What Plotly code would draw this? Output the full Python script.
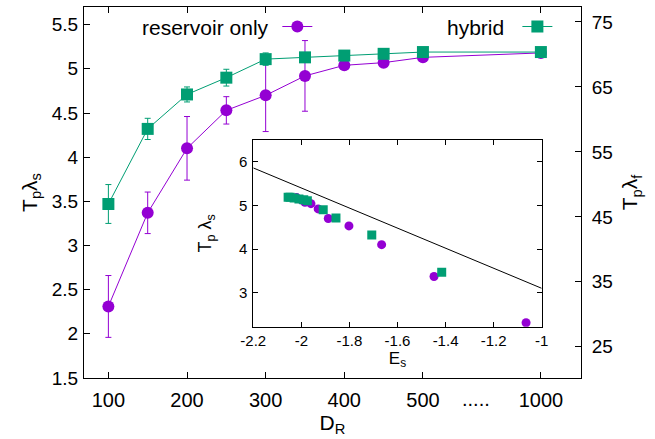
import plotly.graph_objects as go

# ---------------- data ----------------
D_R = [100, 150, 200, 250, 300, 350, 400, 450, 500, 1000]

res_T = [2.31, 3.37, 4.10, 4.53, 4.70, 4.92, 5.04, 5.07, 5.13, 5.18]
res_err = [0.35, 0.235, 0.36, 0.155, 0.41, 0.40, 0.03, 0.03, 0.03, 0.02]

hyb_T = [3.47, 4.32, 4.71, 4.90, 5.11, 5.13, 5.15, 5.17, 5.19, 5.19]
hyb_err = [0.22, 0.12, 0.085, 0.095, 0.07, 0.03, 0.03, 0.03, 0.02, 0.02]

res_E = [-1.065, -1.448, -1.666, -1.802, -1.888, -1.930, -1.960, -1.985, -2.000, -2.020]
hyb_E = [-1.416, -1.707, -1.856, -1.909, -1.975, -1.990, -2.010, -2.030, -2.047, -2.055]

fit_E = [-2.2, -1.0]
fit_T = [5.86, 3.10]

x_tick_vals = [100, 200, 300, 400, 500, 1000]
x_tick_text = ["100", "200", "300", "400", "500", "1000"]
inset_x_ticks = [-2.2, -2.0, -1.8, -1.6, -1.4, -1.2, -1.0]
inset_x_text = ["-2.2", "-2", "-1.8", "-1.6", "-1.4", "-1.2", "-1"]
y2_ticks = [25, 35, 45, 55, 65, 75]


def brk(d):
    # broken axis: everything beyond 500 is drawn after the "....." gap
    return d if d <= 500 else 650


PURPLE = "#9400D3"
GREEN = "#009E73"
FONT = "Liberation Sans, Arial, sans-serif"

fig = go.Figure()

fig.add_trace(go.Scatter(
    x=[brk(d) for d in D_R], y=res_T, mode="lines+markers", name=" ",
    line=dict(color=PURPLE, width=1),
    marker=dict(symbol="circle", size=12, color=PURPLE),
    error_y=dict(type="data", array=res_err, color=PURPLE, thickness=1, width=3),
    legend="legend", showlegend=True,
))
fig.add_trace(go.Scatter(
    x=[brk(d) for d in D_R], y=hyb_T, mode="lines+markers", name=" ",
    line=dict(color=GREEN, width=1),
    marker=dict(symbol="square", size=12, color=GREEN),
    error_y=dict(type="data", array=hyb_err, color=GREEN, thickness=1, width=3),
    legend="legend2", showlegend=True,
))
# right axis carrier
fig.add_trace(go.Scatter(x=[], y=[], yaxis="y2", showlegend=False))

# inset
fig.add_trace(go.Scatter(
    x=fit_E, y=fit_T, mode="lines", line=dict(color="black", width=1),
    xaxis="x2", yaxis="y3", showlegend=False,
))
fig.add_trace(go.Scatter(
    x=res_E, y=res_T, mode="markers", marker=dict(symbol="circle", size=9, color=PURPLE),
    xaxis="x2", yaxis="y3", showlegend=False,
))
fig.add_trace(go.Scatter(
    x=hyb_E, y=hyb_T, mode="markers", marker=dict(symbol="square", size=9, color=GREEN),
    xaxis="x2", yaxis="y3", showlegend=False,
))

axis_common = dict(showgrid=False, zeroline=False, showline=True, linecolor="black",
                   linewidth=1, ticks="inside", tickcolor="black", automargin=False)

fig.update_layout(
    width=655, height=439,
    margin=dict(l=84, r=74, t=7, b=61),
    paper_bgcolor="white", plot_bgcolor="white",
    font=dict(family=FONT, size=19, color="black"),
    xaxis=dict(**axis_common, range=[69, 701], mirror="ticks", ticklen=6,
               tickvals=[brk(v) for v in x_tick_vals], ticktext=x_tick_text,
               ticklabelstandoff=4, tickfont=dict(size=20),
               title=dict(text="D<sub>R</sub>", standoff=4, font=dict(size=21))),
    yaxis=dict(**axis_common, range=[1.5, 5.7], mirror=True, ticklen=6,
               tickvals=[1.5, 2, 2.5, 3, 3.5, 4, 4.5, 5, 5.5],
               ticktext=["1.5", "2", "2.5", "3", "3.5", "4", "4.5", "5", "5.5"],
               ticklabelstandoff=1,
               title=dict(text="T<sub>p</sub>λ<sub>s</sub>", standoff=8, font=dict(size=21))),
    yaxis2=dict(**axis_common, overlaying="y", side="right", range=[20.2, 77.3], ticklen=6,
                tickvals=y2_ticks, ticklabelstandoff=6,
                title=dict(text="T<sub>p</sub>λ<sub>f</sub>", standoff=10, font=dict(size=21))),
    xaxis2=dict(**axis_common, domain=[0.3406, 0.9209], anchor="y3", range=[-2.2, -1.0],
                mirror="ticks", ticklen=5, tickvals=inset_x_ticks, ticktext=inset_x_text,
                tickfont=dict(size=15),
                title=dict(text="E<sub>s</sub>", font=dict(size=17), standoff=0)),
    yaxis3=dict(**axis_common, domain=[0.1383, 0.6415], anchor="x2", range=[2.22, 6.5],
                mirror="ticks", ticklen=5, tickvals=[3, 4, 5, 6], tickfont=dict(size=15),
                ticklabelstandoff=2,
                title=dict(text="T<sub>p</sub> λ<sub>s</sub>", font=dict(size=18), standoff=22)),
    legend=dict(x=0.389, y=1.0, xanchor="left", yanchor="top", bgcolor="rgba(0,0,0,0)",
                font=dict(size=20), itemwidth=30, tracegroupgap=0),
    legend2=dict(x=0.872, y=1.0, xanchor="left", yanchor="top", bgcolor="rgba(0,0,0,0)",
                 font=dict(size=20), itemwidth=30, tracegroupgap=0),
)

fig.add_annotation(text="reservoir only", xref="paper", yref="paper", x=0.376, y=0.946,
                   xanchor="right", yanchor="middle", showarrow=False, font=dict(size=21))
fig.add_annotation(text="hybrid", xref="paper", yref="paper", x=0.85, y=0.946,
                   xanchor="right", yanchor="middle", showarrow=False, font=dict(size=21))
fig.add_annotation(text=".....", xref="x", yref="paper", x=567, y=0, xanchor="center",
                   yanchor="top", yshift=-8, showarrow=False, font=dict(size=20))

fig.write_html("out.html", config={"displayModeBar": False},
               post_script="document.body.style.margin='0';")
